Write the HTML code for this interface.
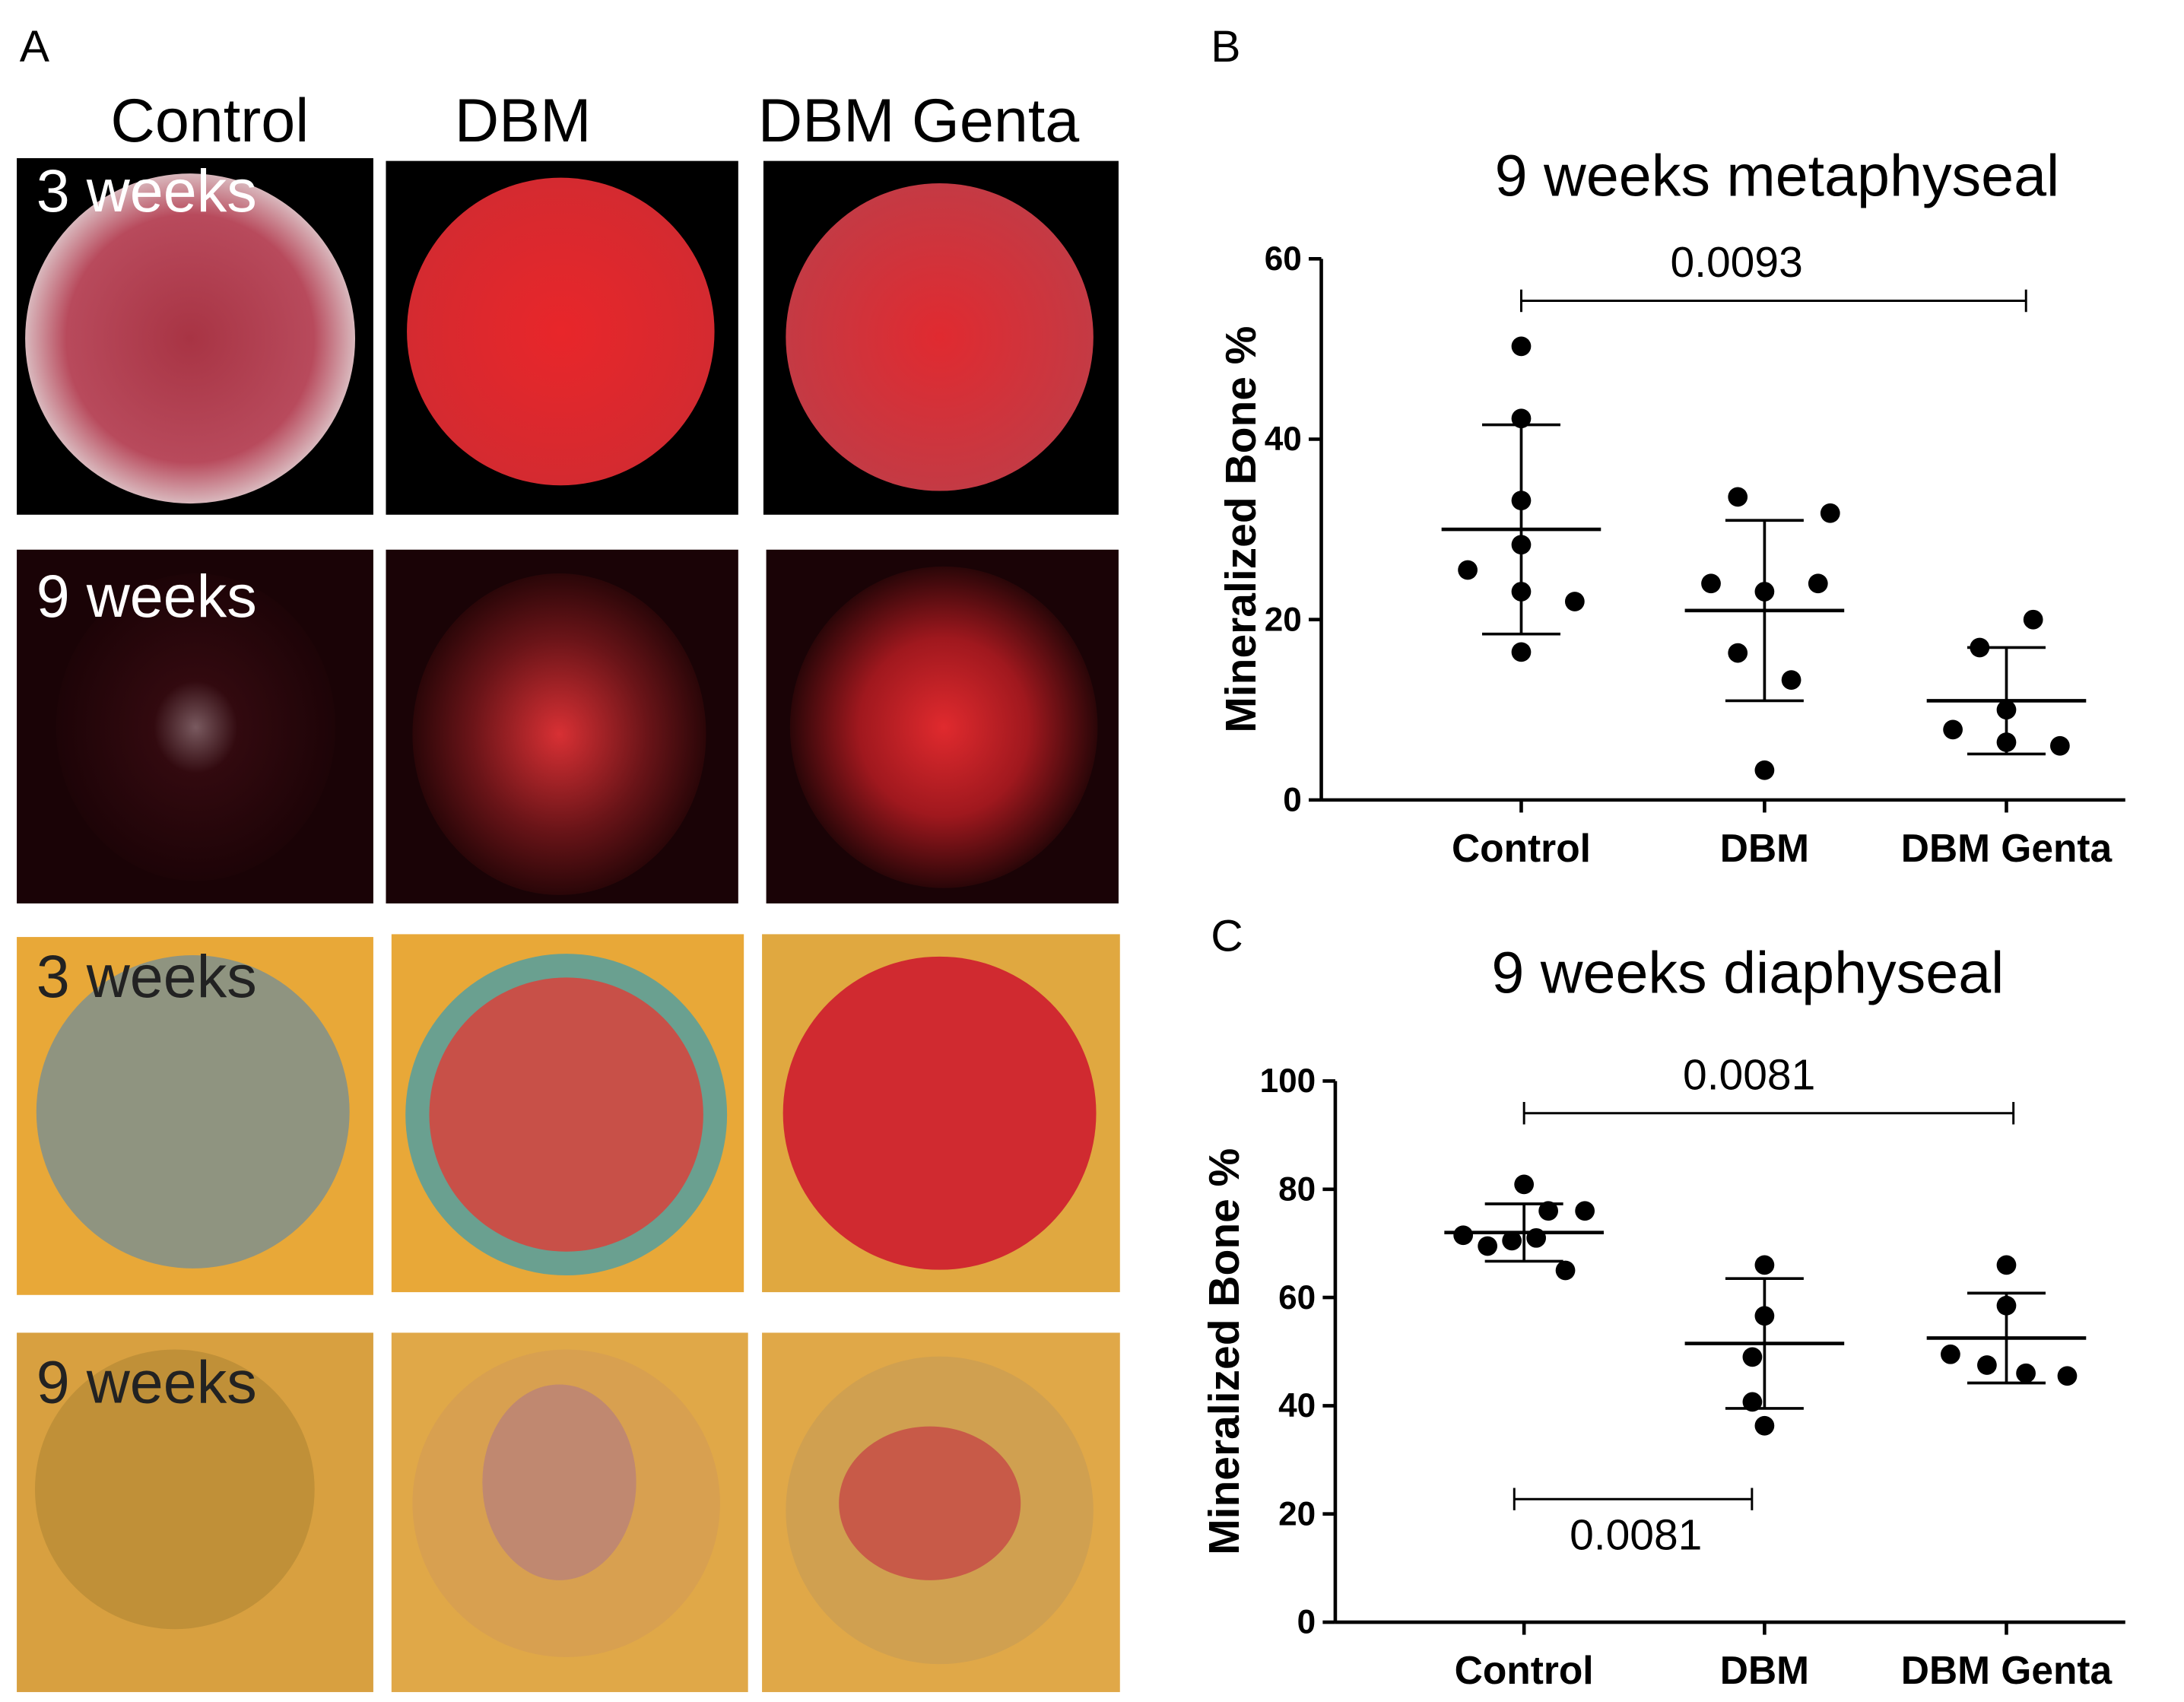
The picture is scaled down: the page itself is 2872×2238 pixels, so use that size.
<!DOCTYPE html>
<html><head><meta charset="utf-8"><style>
html,body{margin:0;padding:0;background:#fff}
svg{display:block}
text{font-family:"Liberation Sans",sans-serif}
</style></head><body>
<svg id="fig" width="2872" height="2238" viewBox="0 0 1562 1217" xmlns="http://www.w3.org/2000/svg">
<defs>
<radialGradient id="g1" cx="50%" cy="50%" r="50%"><stop offset="0" stop-color="#a83444"/><stop offset="0.75" stop-color="#b84a5c"/><stop offset="1" stop-color="#d9b8bd"/></radialGradient>
<radialGradient id="g2" cx="50%" cy="50%" r="50%"><stop offset="0" stop-color="#e8262a"/><stop offset="1" stop-color="#d42a30"/></radialGradient>
<radialGradient id="g3" cx="50%" cy="50%" r="50%"><stop offset="0" stop-color="#e02a30"/><stop offset="1" stop-color="#c43a44"/></radialGradient>
<radialGradient id="g4" cx="50%" cy="50%" r="50%"><stop offset="0" stop-color="#d8b0b8"/><stop offset="0.3" stop-color="#4a1018"/><stop offset="1" stop-color="#200408"/></radialGradient>
<radialGradient id="g5" cx="50%" cy="50%" r="50%"><stop offset="0" stop-color="#d83034"/><stop offset="0.6" stop-color="#6a1418"/><stop offset="1" stop-color="#2a0608"/></radialGradient>
<radialGradient id="g6" cx="50%" cy="50%" r="50%"><stop offset="0" stop-color="#e02a2e"/><stop offset="0.55" stop-color="#a0181e"/><stop offset="1" stop-color="#2a0608"/></radialGradient>
</defs>
<g>
<text x="14" y="44" font-size="32">A</text>
<text x="150" y="101" font-size="44" text-anchor="middle">Control</text>
<text x="374" y="101" font-size="44" text-anchor="middle">DBM</text>
<text x="657" y="101" font-size="44" text-anchor="middle">DBM Genta</text>
<rect x="12" y="113" width="255" height="255" fill="#000"/>
<circle cx="136" cy="242" r="118" fill="url(#g1)"/>
<rect x="276" y="115" width="252" height="253" fill="#000"/>
<circle cx="401" cy="237" r="110" fill="url(#g2)"/>
<rect x="546" y="115" width="254" height="253" fill="#000"/>
<circle cx="672" cy="241" r="110" fill="url(#g3)"/>
<text x="26" y="151" font-size="43" fill="#fff">3 weeks</text>
<rect x="12" y="393" width="255" height="253" fill="#1a0306"/>
<ellipse cx="140" cy="520" rx="100" ry="110" fill="url(#g4)" opacity="0.5"/>
<rect x="276" y="393" width="252" height="253" fill="#1a0306"/>
<ellipse cx="400" cy="525" rx="105" ry="115" fill="url(#g5)"/>
<rect x="548" y="393" width="252" height="253" fill="#1a0306"/>
<ellipse cx="675" cy="520" rx="110" ry="115" fill="url(#g6)"/>
<text x="26" y="441" font-size="43" fill="#fff">9 weeks</text>
<rect x="12" y="670" width="255" height="256" fill="#e8a838"/>
<circle cx="138" cy="795" r="112" fill="#8f9480"/>
<rect x="280" y="668" width="252" height="256" fill="#e8a838"/>
<circle cx="405" cy="797" r="115" fill="#6aa090"/><circle cx="405" cy="797" r="98" fill="#c85048"/>
<rect x="545" y="668" width="256" height="256" fill="#e0a840"/>
<circle cx="672" cy="796" r="112" fill="#d02a30"/>
<text x="26" y="713" font-size="43" fill="#222">3 weeks</text>
<rect x="12" y="953" width="255" height="257" fill="#d8a040"/>
<circle cx="125" cy="1065" r="100" fill="#c09038"/>
<rect x="280" y="953" width="255" height="257" fill="#e0a848"/>
<circle cx="405" cy="1075" r="110" fill="#d8a050"/><ellipse cx="400" cy="1060" rx="55" ry="70" fill="#c08870"/>
<rect x="545" y="953" width="256" height="257" fill="#e0a848"/>
<circle cx="672" cy="1080" r="110" fill="#d0a050"/><ellipse cx="665" cy="1075" rx="65" ry="55" fill="#c85a48"/>
<text x="26" y="1003" font-size="43" fill="#222">9 weeks</text>
</g>
<g id="chartB"></g>
<g id="chartC"></g>
</svg>
<script>
const categories = ["Control","DBM","DBM Genta"];
const bControl = [50.3,42.3,33.2,28.3,25.5,23.1,22,16.4];
const bDBM = [33.6,31.8,24,24,23.1,16.3,13.3,3.3];
const bGenta = [20,16.9,10,7.8,6.4,6];
const bJitter = [[0,0,0,0,-0.22,0,0.22,0],[-0.11,0.27,-0.22,0.22,0,-0.11,0.11,0],[0.11,-0.11,0,-0.22,0,0.22]];
const bMean = [30,21,11];
const bSD = [11.6,10,5.9];
const bTicks = [0,20,40,60];
const bP = "0.0093";
const cControl = [80.9,76,76,71.5,71,70.5,69.5,65];
const cDBM = [66,56.6,49,40.7,36.3];
const cGenta = [66,58.5,49.5,47.5,46,45.5];
const cJitter = [[0,0.1,0.25,-0.25,0.05,-0.05,-0.15,0.17],[0,0,-0.05,-0.05,0],[0,0,-0.23,-0.08,0.08,0.25]];
const cMean = [72,51.5,52.5];
const cSD = [5.3,12,8.3];
const cTicks = [0,20,40,60,80,100];
const cP = "0.0081";
const NS="http://www.w3.org/2000/svg";
function mk(p,tag,attrs){const e=document.createElementNS(NS,tag);for(const k in attrs)e.setAttribute(k,attrs[k]);p.appendChild(e);return e;}
function chart(g,o){
  const y=v=>o.y0-(v-0)/(o.ymax)*(o.y0-o.ytop);
  const x=i=>o.xs[i];
  const w=174;
  let t=mk(g,'text',{x:o.titleX,y:o.titleY,'font-size':42,'text-anchor':'middle'});t.textContent=o.title;
  
  
  t=mk(g,'text',{x:o.lx,y:o.ly,'font-size':32});t.textContent=o.letter;
  
  
  let a=mk(g,'line',{x1:o.ax,y1:o.ytop,x2:o.ax,y2:o.y0,stroke:'#000','stroke-width':2.5});
  
  
  a=mk(g,'line',{x1:o.ax,y1:o.y0,x2:o.axEnd,y2:o.y0,stroke:'#000','stroke-width':2.5});
  
  
  o.ticks.forEach(v=>{
    const tk=mk(g,'line',{x1:o.ax-9,y1:y(v),x2:o.ax,y2:y(v),stroke:'#000','stroke-width':2.5});
    
    
    const tl=mk(g,'text',{x:o.ax-14,y:y(v)+8,'font-size':24,'font-weight':'bold','text-anchor':'end'});tl.textContent=v;
    
    
  });
  categories.forEach((c,i)=>{
    const tk=mk(g,'line',{x1:x(i),y1:o.y0,x2:x(i),y2:o.y0+9,stroke:'#000','stroke-width':2.5});
    
    
    const tl=mk(g,'text',{x:x(i),y:o.y0+44,'font-size':28,'font-weight':'bold','text-anchor':'middle'});tl.textContent=c;
    
    
  });
  const yl=mk(g,'text',{x:0,y:0,'font-size':31,'font-weight':'bold','text-anchor':'middle',transform:`translate(${o.ylx},${(o.y0+o.ytop)/2}) rotate(-90)`});
  yl.textContent='Mineralized Bone %';
  
  
  o.series.forEach((s,i)=>{
    s.forEach((v,j)=>{
      const d=mk(g,'circle',{cx:x(i)+o.jit[i][j]*w,cy:y(v),r:7,fill:'#000'});
      
      
    });
    const m=o.mean[i],sd=o.sd[i];
    const ml=mk(g,'line',{x1:x(i)-57,y1:y(m),x2:x(i)+57,y2:y(m),stroke:'#000','stroke-width':2.5});
    
    
    const p=mk(g,'path',{d:`M${x(i)},${y(m+sd)}V${y(m-sd)}M${x(i)-28},${y(m+sd)}H${x(i)+28}M${x(i)-28},${y(m-sd)}H${x(i)+28}`,stroke:'#000','stroke-width':2,fill:'none'});
    
    
  });
  o.brackets.forEach(b=>{
    const p=mk(g,'path',{d:`M${b.x1},${b.y-8}V${b.y+8}M${b.x1},${b.y}H${b.x2}M${b.x2},${b.y-8}V${b.y+8}`,stroke:'#000','stroke-width':1.6,fill:'none'});
    
    
    const tl=mk(g,'text',{x:b.tx,y:b.ty,'font-size':31,'text-anchor':'middle'});tl.textContent=b.p;
    
    
  });
}
chart(document.getElementById('chartB'),{title:'9 weeks metaphyseal',titleX:1271,titleY:140,letter:'B',lx:866,ly:44,
 ax:945,axEnd:1520,y0:572,ytop:185,ymax:60,ticks:bTicks,xs:[1088,1262,1435],ylx:898,
 series:[bControl,bDBM,bGenta],jit:bJitter,mean:bMean,sd:bSD,
 brackets:[{x1:1088,x2:1449,y:215,tx:1242,ty:198,p:bP}]});
chart(document.getElementById('chartC'),{title:'9 weeks diaphyseal',titleX:1250,titleY:710,letter:'C',lx:866,ly:680,
 ax:955,axEnd:1520,y0:1160,ytop:773,ymax:100,ticks:cTicks,xs:[1090,1262,1435],ylx:886,
 series:[cControl,cDBM,cGenta],jit:cJitter,mean:cMean,sd:cSD,
 brackets:[{x1:1090,x2:1440,y:796,tx:1251,ty:779,p:cP},{x1:1083,x2:1253,y:1072,tx:1170,ty:1108,p:cP}]});
</script>
</body></html>
